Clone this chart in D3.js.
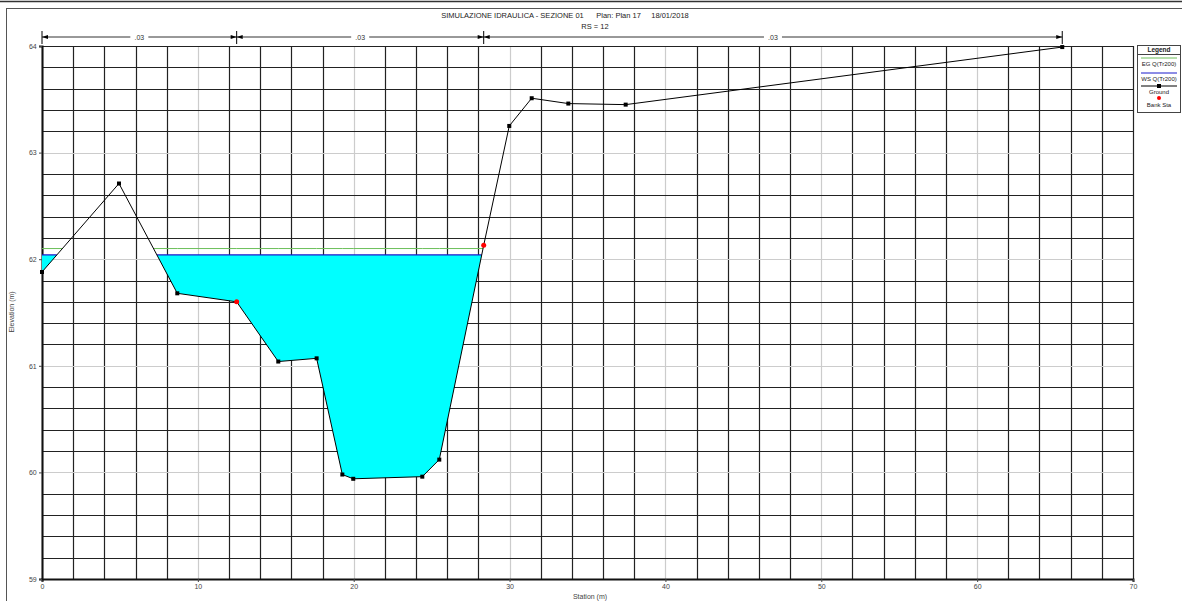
<!DOCTYPE html>
<html>
<head>
<meta charset="utf-8">
<script src="https://cdn.jsdelivr.net/npm/d3@7"></script>
<style>
  body { margin: 0; background: #fff; }
  svg { display: block; font-family: "Liberation Sans", Arial, sans-serif; }
</style>
</head>
<body>
<svg width="1182" height="601"></svg>
<script>
// Cross section data (station m, elevation m)
var stations   = [0, 4.94, 8.68, 12.49, 15.16, 17.62, 19.27, 19.97, 24.40, 25.49, 28.34, 29.98, 31.42, 33.77, 37.45, 65.46];
var elevations = [61.88, 62.71, 61.68, 61.60, 61.04, 61.07, 59.98, 59.94, 59.96, 60.12, 62.13, 63.25, 63.51, 63.46, 63.45, 63.99];
var bankStations = [12.49, 28.34];
var wsLevel = 62.04;   // WS Q(Tr200)
var egLevel = 62.10;   // EG Q(Tr200)
var manningBreaks = [0, 12.49, 28.34, 65.46];
var manningValues = [".03", ".03", ".03"];
var xTicks = [0, 10, 20, 30, 40, 50, 60, 70];
var yTicks = [59, 60, 61, 62, 63, 64];

var svg = d3.select("svg");
var plotLeft = 42, plotRight = 1133, plotTop = 46, plotBottom = 579;

var x = d3.scaleLinear().domain([0, 70]).range([plotLeft, plotRight]);
var y = d3.scaleLinear().domain([59, 64]).range([plotBottom, plotTop]);

var ground = stations.map((s, i) => ({s: s, e: elevations[i]}));

// frame
svg.append("line").attr("x1", 0).attr("x2", 1182).attr("y1", 1.5).attr("y2", 1.5)
  .attr("stroke", "#333").attr("stroke-width", 1.5);
svg.append("rect").attr("x", 6.5).attr("y", 8.5).attr("width", 1180).attr("height", 600)
  .attr("fill", "none").attr("stroke", "#555").attr("stroke-width", 1);

// title
svg.append("text").attr("x", 565).attr("y", 18).attr("text-anchor", "middle")
  .attr("font-size", 7.5).attr("fill", "#222")
  .attr("xml:space", "preserve")
  .text("SIMULAZIONE IDRAULICA - SEZIONE 01      Plan: Plan 17     18/01/2018");
svg.append("text").attr("x", 595).attr("y", 29).attr("text-anchor", "middle")
  .attr("font-size", 7.5).attr("fill", "#222").text("RS = 12");

// grid
var g = svg.append("g");
d3.range(0, 70.01, 2).forEach(function(v) {
  var major = v % 10 === 0 && v !== 0 && v !== 70;
  g.append("line").attr("x1", Math.round(x(v)) + 0.5).attr("x2", Math.round(x(v)) + 0.5)
    .attr("y1", plotTop).attr("y2", plotBottom)
    .attr("stroke", major ? "#ccc" : "#222").attr("stroke-width", 1.2);
});
d3.range(59, 64.01, 0.2).forEach(function(v) {
  var major = Math.abs(v - Math.round(v)) < 1e-6 && v > 59.5 && v < 63.5;
  g.append("line").attr("x1", plotLeft).attr("x2", plotRight)
    .attr("y1", Math.round(y(v)) + 0.5).attr("y2", Math.round(y(v)) + 0.5)
    .attr("stroke", major ? "#ccc" : "#222").attr("stroke-width", 1.2);
});

// axes
var xAxis = svg.append("g").attr("transform", "translate(0," + plotBottom + ")")
  .call(d3.axisBottom(x).tickValues(xTicks).tickSize(3).tickFormat(d3.format("d")));
var yAxis = svg.append("g").attr("transform", "translate(" + plotLeft + ",0)")
  .call(d3.axisLeft(y).tickValues(yTicks).tickSize(3).tickFormat(d3.format("d")));
[xAxis, yAxis].forEach(function(a) {
  a.select(".domain").attr("stroke", "#111").attr("stroke-width", 2);
  a.selectAll(".tick line").attr("stroke", "#444");
  a.selectAll(".tick text").attr("font-size", 7).attr("fill", "#444")
    .attr("font-family", "Liberation Sans, Arial, sans-serif");
});
xAxis.selectAll(".tick text").attr("dy", "0.5em");
yAxis.selectAll(".tick text").attr("dx", "0.1em");

svg.append("text").attr("x", 590).attr("y", 599).attr("text-anchor", "middle")
  .attr("font-size", 7).attr("fill", "#444").text("Station (m)");
svg.append("text").attr("transform", "translate(14,312) rotate(-90)").attr("text-anchor", "middle")
  .attr("font-size", 7).attr("fill", "#444").text("Elevation (m)");

// insert crossings of a level into the ground profile
function withCrossings(level) {
  var out = [];
  for (var i = 0; i < ground.length; i++) {
    var a = ground[i];
    out.push(a);
    if (i < ground.length - 1) {
      var b = ground[i + 1];
      if ((a.e - level) * (b.e - level) < 0) {
        var t = (level - a.e) / (b.e - a.e);
        out.push({s: a.s + t * (b.s - a.s), e: level});
      }
    }
  }
  return out;
}

// water fill
var wsPts = withCrossings(wsLevel);
svg.append("path").datum(wsPts)
  .attr("d", d3.area().x(d => x(d.s)).y0(y(wsLevel)).y1(d => y(Math.min(d.e, wsLevel))))
  .attr("fill", "#00ffff");

// EG and WS lines
var egPts = withCrossings(egLevel);
svg.append("path").datum(egPts)
  .attr("d", d3.line().defined(d => d.e <= egLevel + 1e-9).x(d => x(d.s)).y(y(egLevel)))
  .attr("fill", "none").attr("stroke", "#6cbf5a").attr("stroke-width", 1);
svg.append("path").datum(wsPts)
  .attr("d", d3.line().defined(d => d.e <= wsLevel + 1e-9).x(d => x(d.s)).y(y(wsLevel)))
  .attr("fill", "none").attr("stroke", "#1a1acc").attr("stroke-width", 1.3);

// ground
svg.append("path").datum(ground)
  .attr("d", d3.line().x(d => x(d.s)).y(d => y(d.e)))
  .attr("fill", "none").attr("stroke", "#000").attr("stroke-width", 1);
svg.selectAll(".gpt").data(ground.filter(d => bankStations.indexOf(d.s) < 0)).enter()
  .append("rect").attr("class", "gpt")
  .attr("x", d => x(d.s) - 2).attr("y", d => y(d.e) - 2)
  .attr("width", 4).attr("height", 4).attr("fill", "#000");
svg.selectAll(".bank").data(ground.filter(d => bankStations.indexOf(d.s) >= 0)).enter()
  .append("circle").attr("class", "bank")
  .attr("cx", d => x(d.s)).attr("cy", d => y(d.e)).attr("r", 2.5).attr("fill", "#ff0000");

// Manning n bar
var my = 37;
svg.append("line").attr("x1", x(manningBreaks[0])).attr("x2", x(manningBreaks[3]))
  .attr("y1", my).attr("y2", my).attr("stroke", "#333").attr("stroke-width", 1);
manningBreaks.forEach(function(b, i) {
  var bx = x(b);
  svg.append("line").attr("x1", bx).attr("x2", bx).attr("y1", my - 6).attr("y2", my + 7)
    .attr("stroke", "#000").attr("stroke-width", 1);
  if (i > 0) {
    svg.append("path").attr("d", "M" + (bx - 6) + "," + (my - 2) + "L" + bx + "," + my + "L" + (bx - 6) + "," + (my + 2) + "Z")
      .attr("fill", "#000");
  }
  if (i < manningBreaks.length - 1) {
    svg.append("path").attr("d", "M" + (bx + 6) + "," + (my - 2) + "L" + bx + "," + my + "L" + (bx + 6) + "," + (my + 2) + "Z")
      .attr("fill", "#000");
  }
});
manningValues.forEach(function(v, i) {
  var cx = (x(manningBreaks[i]) + x(manningBreaks[i + 1])) / 2;
  svg.append("rect").attr("x", cx - 9).attr("y", my - 4).attr("width", 18).attr("height", 8).attr("fill", "#fff");
  svg.append("text").attr("x", cx).attr("y", my + 2.5).attr("text-anchor", "middle")
    .attr("font-size", 7).attr("fill", "#333").text(v);
});

// legend
var lg = svg.append("g").attr("transform", "translate(1137,45)");
lg.append("rect").attr("x", 0.5).attr("y", 0.5).attr("width", 43).attr("height", 67)
  .attr("fill", "#fff").attr("stroke", "#444");
lg.append("text").attr("x", 22).attr("y", 7).attr("text-anchor", "middle")
  .attr("font-size", 6.5).attr("font-weight", "bold").attr("fill", "#222").text("Legend");
lg.append("line").attr("x1", 0).attr("x2", 44).attr("y1", 9.5).attr("y2", 9.5).attr("stroke", "#444");
lg.append("line").attr("x1", 4).attr("x2", 40).attr("y1", 13).attr("y2", 13).attr("stroke", "#6cbf5a");
lg.append("text").attr("x", 22).attr("y", 21).attr("text-anchor", "middle")
  .attr("font-size", 6).attr("fill", "#222").text("EG Q(Tr200)");
lg.append("line").attr("x1", 4).attr("x2", 40).attr("y1", 28).attr("y2", 28).attr("stroke", "#1a1acc");
lg.append("text").attr("x", 22).attr("y", 36).attr("text-anchor", "middle")
  .attr("font-size", 6).attr("fill", "#222").text("WS Q(Tr200)");
lg.append("line").attr("x1", 4).attr("x2", 40).attr("y1", 41).attr("y2", 41).attr("stroke", "#000");
lg.append("rect").attr("x", 20).attr("y", 39).attr("width", 4).attr("height", 4).attr("fill", "#000");
lg.append("text").attr("x", 22).attr("y", 49).attr("text-anchor", "middle")
  .attr("font-size", 6).attr("fill", "#222").text("Ground");
lg.append("circle").attr("cx", 22).attr("cy", 53).attr("r", 2).attr("fill", "#ff0000");
lg.append("text").attr("x", 22).attr("y", 62).attr("text-anchor", "middle")
  .attr("font-size", 6).attr("fill", "#222").text("Bank Sta");
</script>
</body>
</html>
